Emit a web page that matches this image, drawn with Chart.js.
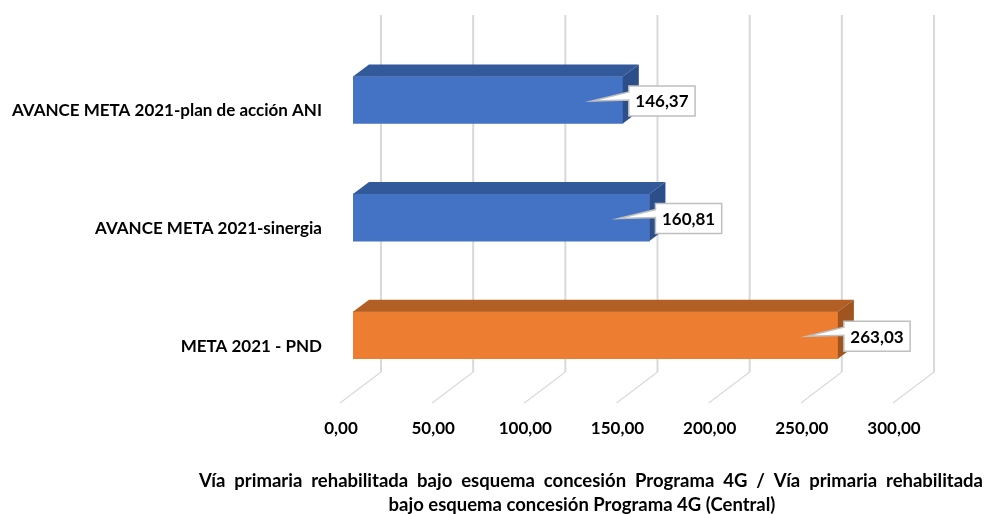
<!DOCTYPE html>
<html>
<head>
<meta charset="utf-8">
<script src="https://cdn.jsdelivr.net/npm/chart.js@4.4.1/dist/chart.umd.min.js"></script>
<style>
  html, body { margin: 0; padding: 0; background: #ffffff; }
  #wrap { width: 988px; height: 514px; }
</style>
</head>
<body>
<div id="wrap"><canvas id="chart" width="988" height="514"></canvas></div>
<script>
// =========================
// DATA
// =========================

const categories = [
  "AVANCE META 2021-plan de acción ANI",
  "AVANCE META 2021-sinergia",
  "META 2021 - PND",
];
const values = [146.37, 160.81, 263.03];
const xTicks = [0, 50, 100, 150, 200, 250, 300];
const titleLines = [
  "Vía primaria rehabilitada bajo esquema concesión Programa 4G / Vía primaria rehabilitada",
  "bajo esquema concesión Programa 4G (Central)",
];

// =========================
// STYLE
// =========================

const FONT = "Lato";
const frontColors = ["#4472C4", "#4472C4", "#ED7D31"];
const topColors = ["#32599A", "#32599A", "#B25F26"];
const sideColors = ["#2C4F8B", "#2C4F8B", "#A0541F"];
const GRID = "#d9d9d9";
const DEPTH_X = 16;
const DEPTH_Y = 12;

function fmt(v) {
  return v.toFixed(2).replace(".", ",");
}

// back wall + floor grid, drawn from the x scale ticks
const wallGrid = {
  id: "wallGrid",
  beforeDatasetsDraw(chart) {
    const { ctx, chartArea, scales } = chart;
    const wallBottom = chartArea.bottom - 22;
    const floorFront = chartArea.bottom + 9;
    ctx.save();
    ctx.strokeStyle = GRID;
    xTicks.forEach((v) => {
      const px = scales.x.getPixelForValue(v);
      ctx.lineWidth = 2;
      ctx.beginPath();
      ctx.moveTo(px + 28, 15);
      ctx.lineTo(px + 28, wallBottom);
      ctx.stroke();
      ctx.lineWidth = 1.2;
      ctx.beginPath();
      ctx.moveTo(px + 28, wallBottom);
      ctx.lineTo(px - 13, floorFront);
      ctx.stroke();
    });
    ctx.restore();
  },
};

// top and side faces of each bar
const barFaces = {
  id: "barFaces",
  afterDatasetsDraw(chart) {
    const { ctx } = chart;
    const meta = chart.getDatasetMeta(0);
    ctx.save();
    meta.data.forEach((bar, i) => {
      const { x, y, base, height } = bar.getProps(["x", "y", "base", "height"], true);
      const top = y - height / 2;
      const bottom = y + height / 2;

      ctx.fillStyle = topColors[i];
      ctx.beginPath();
      ctx.moveTo(base, top);
      ctx.lineTo(base + DEPTH_X, top - DEPTH_Y);
      ctx.lineTo(x + DEPTH_X, top - DEPTH_Y);
      ctx.lineTo(x, top);
      ctx.closePath();
      ctx.fill();

      ctx.fillStyle = sideColors[i];
      ctx.beginPath();
      ctx.moveTo(x, top);
      ctx.lineTo(x + DEPTH_X, top - DEPTH_Y);
      ctx.lineTo(x + DEPTH_X, bottom - DEPTH_Y);
      ctx.lineTo(x, bottom);
      ctx.closePath();
      ctx.fill();
    });
    ctx.restore();
  },
};

// callout data labels
const callouts = {
  id: "callouts",
  afterDatasetsDraw(chart) {
    const { ctx } = chart;
    const meta = chart.getDatasetMeta(0);
    ctx.save();
    ctx.font = "bold 17px " + FONT;
    meta.data.forEach((bar, i) => {
      const { x, y } = bar.getProps(["x", "y"], true);
      const text = fmt(values[i]);
      const w = ctx.measureText(text).width + 13;
      const h = 30;
      const left = x + 6;
      const cy = y + 1;
      const top = cy - h / 2;

      ctx.beginPath();
      ctx.moveTo(left, top);
      ctx.lineTo(left + w, top);
      ctx.lineTo(left + w, top + h);
      ctx.lineTo(left, top + h);
      ctx.lineTo(left, cy - 1);
      ctx.lineTo(x - 31, y + 1);
      ctx.lineTo(left, cy - 9);
      ctx.closePath();
      ctx.fillStyle = "#ffffff";
      ctx.fill();
      ctx.strokeStyle = "#bfbfbf";
      ctx.lineWidth = 1.5;
      ctx.stroke();

      ctx.fillStyle = "#000000";
      ctx.textAlign = "center";
      ctx.textBaseline = "middle";
      ctx.fillText(text, left + w / 2, cy + 1);
    });
    ctx.restore();
  },
};

// justified two-line axis title under the chart
const bottomTitle = {
  id: "bottomTitle",
  afterDraw(chart) {
    const { ctx } = chart;
    ctx.save();
    ctx.font = "bold 18.5px " + FONT;
    ctx.fillStyle = "#000000";
    ctx.textBaseline = "alphabetic";

    // first line spread over the full width
    const words = titleLines[0].split(" ");
    const start = 199;
    const end = 983;
    const wordsWidth = words.reduce((s, w) => s + ctx.measureText(w).width, 0);
    const gap = (end - start - wordsWidth) / (words.length - 1);
    let cx = start;
    ctx.textAlign = "left";
    words.forEach((w) => {
      ctx.fillText(w, cx, 487);
      cx += ctx.measureText(w).width + gap;
    });

    ctx.textAlign = "center";
    ctx.fillText(titleLines[1], 582, 511);
    ctx.restore();
  },
};

// =========================
// CHART
// =========================

const chart = new Chart(document.getElementById("chart"), {
  type: "bar",
  data: {
    labels: categories,
    datasets: [
      {
        data: values,
        backgroundColor: frontColors,
        borderWidth: 0,
        barThickness: 47,
      },
    ],
  },
  options: {
    indexAxis: "y",
    responsive: false,
    animation: false,
    devicePixelRatio: 1,
    layout: { padding: { top: 37, right: 82, left: 0, bottom: 0 } },
    plugins: {
      legend: { display: false },
      tooltip: { enabled: false },
    },
    scales: {
      x: {
        min: 0,
        max: 300,
        afterBuildTicks: (scale) => {
          scale.ticks = xTicks.map((v) => ({ value: v }));
        },
        afterFit: (scale) => {
          scale.height = 120;
        },
        grid: { display: false, drawTicks: false },
        border: { display: false },
        ticks: {
          padding: 24,
          labelOffset: -12,
          maxRotation: 0,
          color: "#000000",
          font: { family: FONT, size: 17, weight: "bold" },
          callback: (v) => fmt(v),
        },
      },
      y: {
        afterFit: (scale) => {
          scale.width = 353;
        },
        grid: { display: false, drawTicks: false },
        border: { display: false },
        ticks: {
          padding: 31,
          labelOffset: 11,
          color: "#000000",
          font: { family: FONT, size: 17, weight: "bold" },
        },
      },
    },
  },
  plugins: [wallGrid, barFaces, callouts, bottomTitle],
});
</script>
</body>
</html>
